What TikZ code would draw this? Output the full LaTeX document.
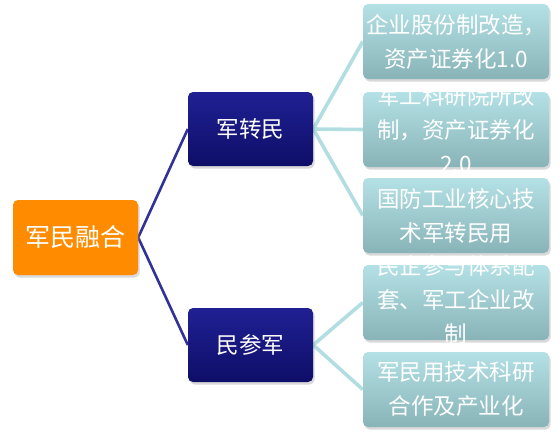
\documentclass[tikz,border=0pt]{standalone}
\usepackage{fontspec}
\newfontfamily\cjk{Noto Sans CJK SC}
\usetikzlibrary{positioning,shadows,backgrounds}
\definecolor{rootcol}{RGB}{255,140,0}
\definecolor{midtop}{RGB}{32,32,148}
\definecolor{midbot}{RGB}{14,14,104}
\definecolor{leaftop}{RGB}{180,225,229}
\definecolor{leafbot}{RGB}{136,180,184}
\definecolor{rootline}{RGB}{48,50,150}
\definecolor{leafline}{RGB}{178,222,226}

\begin{document}
\begin{tikzpicture}[x=1pt,y=-1pt,
  box/.style={rounded corners=5pt,inner sep=0pt,text=white,
    drop shadow={opacity=0.3,shadow xshift=1.5pt,shadow yshift=-2.5pt}},
  root/.style={box,fill=rootcol,minimum width=125pt,minimum height=75pt,
    font=\cjk\fontsize{25}{30}\selectfont},
  mid/.style={box,top color=midtop,bottom color=midbot,minimum width=125pt,
    minimum height=74pt,font=\cjk\fontsize{22.5}{30}\selectfont},
  leaf/.style={box,top color=leaftop,bottom color=leafbot,minimum width=186pt,
    minimum height=75pt},
  lbl/.style={text=white,align=center,inner sep=0pt,
    font=\cjk\fontsize{22.5}{34}\selectfont}]
  \useasboundingbox (0,0) rectangle (560,437);
  % root and the two branches
  \node[root] (root) at (75.5,237.5) {军民融合};
  \node[mid] (jzm) at (250.5,129) {军转民};
  \node[mid] (mcj) at (250.5,345) {民参军};
  % leaves
  \node[leaf] (l1) at (456,41.5) {};
  \node[leaf] (l2) at (456,129.5) {};
  \node[leaf] (l3) at (456,215.5) {};
  \node[leaf] (l4) at (456,302.5) {};
  \node[leaf] (l5) at (456,389.5) {};
  \node[lbl] (t1) at (l1) {企业股份制改造，\\资产证券化1.0};
  \node[lbl] (t2) at (l2) {军工科研院所改\\制，资产证券化\\2.0};
  \node[lbl] (t3) at (l3) {国防工业核心技\\术军转民用};
  \node[lbl] (t4) at ([yshift=3pt]l4.center) {民企参与体系配\\套、军工企业改\\制};
  \node[lbl] (t5) at (l5) {军民用技术科研\\合作及产业化};
  % connectors
  \begin{scope}[on background layer]
    \draw[rootline,line width=2.6pt] (jzm.west) -- (root.east) -- (mcj.west);
    \foreach \l in {l1,l2,l3}
      {\draw[leafline,line width=3.6pt] (jzm.east) -- (\l.west);}
    \foreach \l in {l4,l5}
      {\draw[leafline,line width=3.6pt] (mcj.east) -- (\l.west);}
  \end{scope}
\end{tikzpicture}
\end{document}
